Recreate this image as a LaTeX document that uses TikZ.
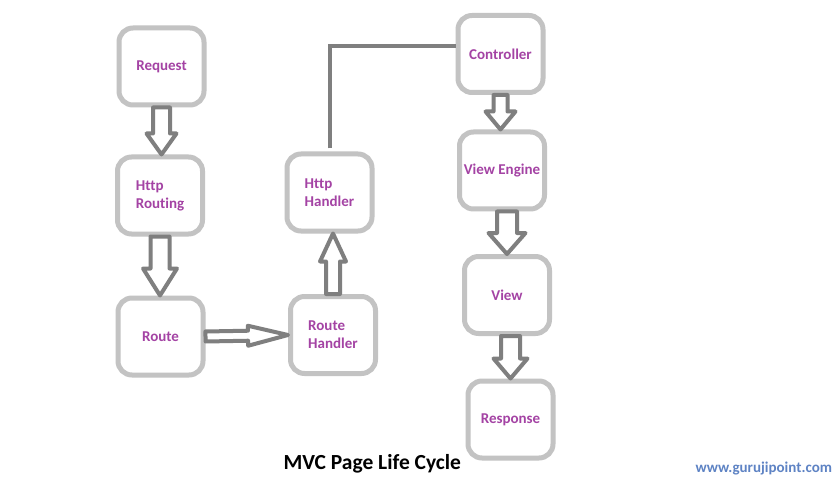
\documentclass[tikz,border=0pt]{standalone}
\usepackage{fontspec}
\setmainfont{Carlito}[Ligatures=NoCommon]
\usepackage{tikz}
\usetikzlibrary{calc}
\definecolor{boxgray}{HTML}{C3C3C3}
\definecolor{arrowgray}{HTML}{7F7F7F}
\definecolor{labelpurple}{HTML}{A443A4}
\definecolor{sitelink}{HTML}{5E83C4}
\newcommand{\fatarrow}[5]{%
	\coordinate (fa-s) at (#1);
	\coordinate (fa-t) at (#2);
	\coordinate (fa-h) at ($(fa-t)!#5!(fa-s)$);
	\draw[fat] ($(fa-s)!#3!90:(fa-t)$) -- ($(fa-h)!#3!90:(fa-t)$) -- ($(fa-h)!#4!90:(fa-t)$) -- (fa-t)
		-- ($(fa-h)!#4!-90:(fa-t)$) -- ($(fa-h)!#3!-90:(fa-t)$) -- ($(fa-s)!#3!-90:(fa-t)$) -- cycle;}

\begin{document}
\begin{tikzpicture}[x=1pt,y=-1pt,
		box/.style={draw=boxgray, line width=5pt, rounded corners=14pt, fill=white, minimum width=85pt, minimum height=77pt, outer sep=2.5pt, text=labelpurple, align=left, font=\fontsize{15pt}{18pt}\selectfont\bfseries},
		fat/.style={draw=arrowgray, line width=4pt, fill=white, line join=round},
		link/.style={draw=arrowgray, line width=4pt}]
		\path[use as bounding box, fill=white] (0,0) rectangle (836,484);
		\node[box] (req) at (161.5,66.5) {Request};
		\node[box] (rout) at (160,195.5) {Http\\Routing};
		\node[box] (route) at (160.5,336.5) {Route};
		\node[box] (rh) at (333,335) {Route\\Handler};
		\node[box] (hh) at (329.5,192.5) {Http\\Handler};
		\node[box] (ctrl) at (500.5,54) {Controller};
		\node[box] (ve) at (502,170.5) {View Engine};
		\node[box] (view) at (507,295) {View};
		\node[box] (resp) at (510.5,419.5) {Response};
		\fatarrow{req.south}{req.south |- rout.north}{8.5pt}{15pt}{21pt}
		\fatarrow{rout.south}{rout.south |- route.north}{9.5pt}{17pt}{27pt}
		\fatarrow{route.east}{rh.west}{5pt}{10pt}{40pt}
		\fatarrow{rh.north}{rh.north |- hh.south}{7pt}{13pt}{28pt}
		\fatarrow{ctrl.south}{ctrl.south |- ve.north}{7pt}{15pt}{18pt}
		\fatarrow{ve.south -| view.north}{view.north}{10pt}{18.5pt}{21pt}
		\fatarrow{view.south -| resp.north}{resp.north}{9.5pt}{17pt}{20pt}
		\draw[link, shorten <=3pt] (hh.north) |- ([yshift=8pt]ctrl.west);
		\node[anchor=base west, font=\fontsize{21.5pt}{26pt}\selectfont\bfseries] (title) at (280,469) {MVC Page Life Cycle};
		\node[anchor=base west, text=sitelink, font=\fontsize{15pt}{18pt}\selectfont\bfseries] (site) at (692,472) {www.gurujipoint.com};
\end{tikzpicture}
\end{document}
